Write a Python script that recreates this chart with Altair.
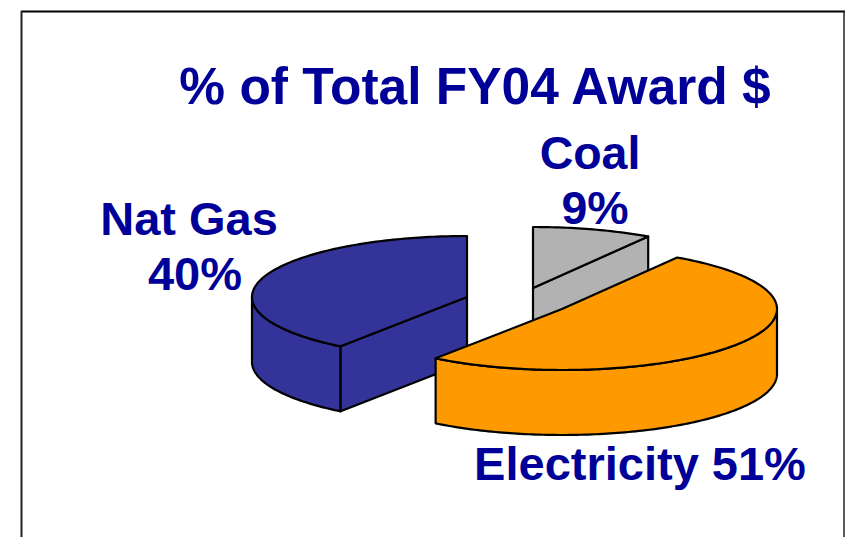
import math
import altair as alt

# Data
slice_names = ["Coal", "Electricity", "Nat Gas"]
slice_shares = [9, 51, 40]
slice_colors = ["#B2B2B2", "#FF9900", "#333399"]
draw_order = ["Coal", "Nat Gas", "Electricity"]

# Layout (page pixels minus the 8px margin are applied below)
M = 8
RX, RY, DEPTH = 215, 61, 65
centres = {"Coal": (533, 288), "Electricity": (562, 309), "Nat Gas": (467, 297)}
TEXT_COLOR = "#000099"
FONT = "Liberation Sans"


def pt(c, deg, dy=0):
    t = math.radians(deg)
    return [c[0] + RX * math.sin(t) - M, c[1] - RY * math.cos(t) + dy - M]


def arc(c, a, b, dy=0):
    n = max(2, int(abs(b - a)))
    return [pt(c, a + (b - a) * i / n, dy) for i in range(n + 1)]


def poly(coords, color):
    ring = coords + [coords[0]]
    return {"type": "Feature", "properties": {"color": color},
            "geometry": {"type": "Polygon", "coordinates": [ring]}}


spans = {}
acc = 0.0
total = sum(slice_shares)
for name, share in zip(slice_names, slice_shares):
    spans[name] = (acc, acc + 360.0 * share / total)
    acc = spans[name][1]

features = []
for name in draw_order:
    i = slice_names.index(name)
    color = slice_colors[i]
    c = centres[name]
    a, b = spans[name]
    lo, hi = max(a, 90), min(b, 270)
    if lo < hi:  # front-facing rim
        features.append(poly(arc(c, lo, hi) + arc(c, hi, lo, DEPTH), color))
    centre_pt = [c[0] - M, c[1] - M]
    if math.sin(math.radians(a)) < -1e-6:  # cut face at slice start
        p = pt(c, a)
        features.append(poly([centre_pt, p, [p[0], p[1] + DEPTH], [centre_pt[0], centre_pt[1] + DEPTH]], color))
    if math.sin(math.radians(b)) > 1e-6:  # cut face at slice end
        p = pt(c, b)
        features.append(poly([centre_pt, p, [p[0], p[1] + DEPTH], [centre_pt[0], centre_pt[1] + DEPTH]], color))
    features.append(poly([centre_pt] + arc(c, a, b), color))

pie = alt.Chart(alt.Data(values=features)).mark_geoshape(
    stroke="black", strokeWidth=2.2, strokeJoin="round"
).encode(fill=alt.Fill("properties.color:N", scale=None)).project(
    type="identity", scale=1, translate=[0, 0]
)

share = dict(zip(slice_names, slice_shares))
labels = [
    {"t": "% of Total FY04 Award $", "x": 475, "y": 104, "s": 51.5},
    {"t": "Coal", "x": 590, "y": 169, "s": 46.5},
    {"t": f"{share['Coal']}%", "x": 595, "y": 224, "s": 46.5},
    {"t": "Nat Gas", "x": 189, "y": 235, "s": 47},
    {"t": f"{share['Nat Gas']}%", "x": 195, "y": 290, "s": 47},
    {"t": f"Electricity {share['Electricity']}%", "x": 640, "y": 480, "s": 47},
]
for l in labels:
    l["x"] -= M
    l["y"] -= M

text = alt.Chart(alt.Data(values=labels)).mark_text(
    font=FONT, fontWeight="bold", color=TEXT_COLOR, align="center", baseline="alphabetic"
).encode(
    x=alt.X("x:Q", scale=None),
    y=alt.Y("y:Q", scale=None),
    text="t:N",
    size=alt.Size("s:Q", scale=None),
)

one = alt.Data(values=[{"k": 1}])
frame_top = alt.Chart(one).mark_rule(color="black", strokeWidth=2).encode(
    x=alt.value(21 - M), x2=alt.value(845 - M), y=alt.value(11.5 - M))
frame_left = alt.Chart(one).mark_rule(color="#222222", strokeWidth=2).encode(
    y=alt.value(11 - M), y2=alt.value(545), x=alt.value(21.5 - M))
frame_right = alt.Chart(one).mark_rule(color="#222222", strokeWidth=1.5).encode(
    y=alt.value(11 - M), y2=alt.value(545), x=alt.value(844 - M))

chart = alt.layer(frame_top, frame_left, frame_right, pie, text).properties(
    width=837, height=529, padding=0, autosize="none", background="white"
).configure_view(stroke=None)

chart.save("out.html", embed_options={"renderer": "svg", "actions": False})
